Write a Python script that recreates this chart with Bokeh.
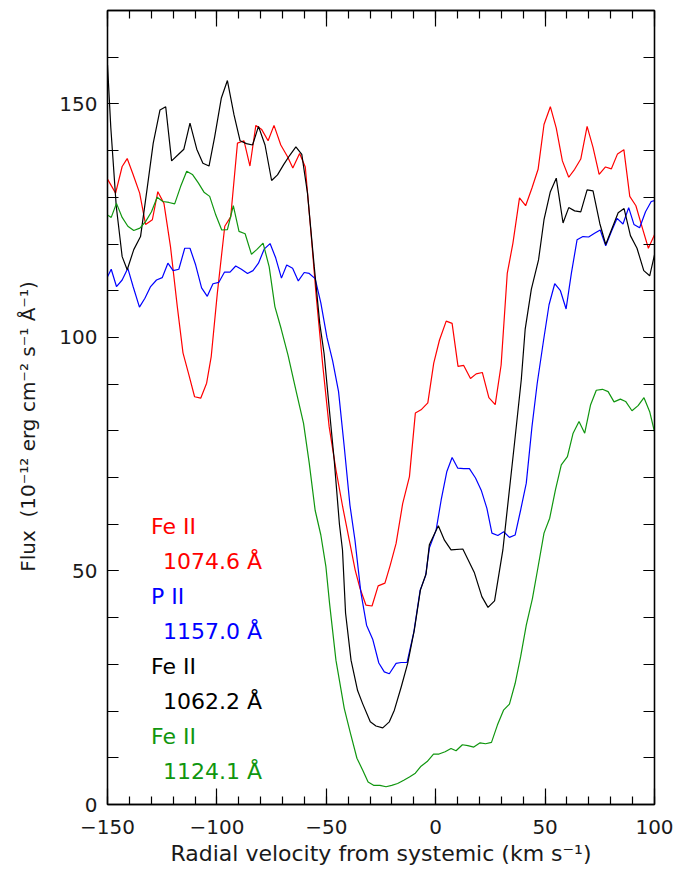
from bokeh.plotting import figure
from bokeh.models import Range1d, LinearAxis, SingleIntervalTicker, Label, CustomJSTickFormatter
from bokeh.embed import file_html
from bokeh.resources import INLINE

# ---------------- data ----------------
v_red = [-150, -146.3, -143.3, -141, -138.3, -135.3, -132.6, -129.5, -127, -124.2, -121.2, -118.1,
         -115.5, -112.8, -110.2, -107.4, -104.7, -102.6, -99.8, -96.4, -93.7, -90.6, -87.6, -84.9,
         -82.2, -79.5, -76.6, -73.9, -70.8, -67.7, -65.3, -62.2, -59.6, -57, -54.6, -51.7, -48.7,
         -45.6, -42.5, -39.5, -36.8, -34.6, -31.9, -29.1, -26.3, -23.2, -20.8, -18.1, -15.1, -12,
         -9.3, -6.7, -3.6, -0.9, 1.7, 4.8, 7.5, 10.2, 12.8, 15.9, 18.5, 21.3, 24.3, 27.2, 29.9, 32.7,
         35.3, 38.3, 41.1, 44, 46.8, 49.5, 52.4, 55.1, 57.9, 60.8, 63.5, 66.3, 69.2, 71.9, 74.7, 77.6,
         80.3, 83.1, 86, 88.7, 91.5, 94.4, 97.2, 100]
f_red = [133.9, 130.9, 136.6, 138.3, 134.9, 130.9, 124.2, 125.2, 131.2, 128.7, 119.4, 106.6,
         96.7, 92.0, 87.3, 87.0, 90.2, 95.9, 109.5, 123.8, 125.8, 141.6, 142.1, 136.7,
         145.4, 144.5, 142.1, 145.4, 141.2, 138.7, 136.3, 139.4, 136.5, 122.4, 108.8, 94.4, 80.9,
         71.7, 63.7, 56.6, 50.2, 46.3, 42.7, 42.5, 46.8, 47.4, 51.2, 55.9, 64.4, 70.2,
         83.8, 84.5, 86.0, 94.5, 99.4, 103.5, 103.0, 93.8, 94.0, 91.2, 92.2, 92.5, 87.1, 85.6, 94.1, 113.7,
         120.2, 129.9, 128.2, 132.0, 136.0, 145.6, 149.4, 144.8, 137.8, 134.3, 136.0, 138.2, 145.2, 140.7, 134.9, 136.5,
         136.1, 139.3, 140.2, 130.2, 128.2, 123.5, 119.1, 122.0]

v_blue = [-150, -148.3, -145.9, -143.3, -140.7, -138.3, -135.4, -132.9, -130.3, -127.6, -125, -122.4,
          -120, -117.4, -114.7, -112.3, -109.7, -107, -104.4, -101.8, -99.1, -96.5, -94, -91.4, -88.8,
          -86, -83.5, -81, -78.4, -75.7, -73.1, -70.5, -68.1, -65.4, -62.8, -60.1, -57.8, -55.1, -52.5,
          -49.7, -47.1, -44.4, -41.8, -39.2, -36.9, -34.2, -31.6, -28.8, -26, -23.5, -21.2, -18.1,
          -15.8, -13.1, -10, -7.1, -4.6, -2.9, 0.2, 2.5, 5.1, 7.5, 10.1, 12.8, 15.4, 18.2, 20.8, 23.4,
          25.7, 28.4, 31.1, 33.7, 36.3, 38.8, 41.4, 44, 46.4, 49.3, 51.8, 54.4, 57, 59.6, 62, 64.6,
          67.3, 69.9, 72.6, 75.2, 77.7, 80.3, 82.9, 85.6, 88.2, 90.6, 93.2, 95.9, 98.5, 100]
f_blue = [113.0, 114.6, 110.9, 112.3, 114.8, 110.9, 106.5, 108.4, 110.9, 112.3, 112.8, 115.9,
          114.3, 114.6, 119.1, 119.1, 115.5, 110.6, 108.8, 111.5, 111.8, 114.0, 114.0, 115.3, 114.6,
          113.7, 114.3, 115.9, 118.9, 120.1, 117.0, 112.7, 115.5, 114.8, 112.1, 113.9, 113.7, 112.6, 107.4,
          100.0, 95.0, 88.4, 76.6, 64.1, 56.6, 45.4, 38.4, 35.4, 30.3, 28.4, 28.0, 30.2,
          30.4, 30.4, 36.9, 45.9, 49.0, 54.9, 58.8, 65.2, 71.3, 74.3, 72.0, 71.9, 71.9, 69.9, 67.3, 63.4,
          58.1, 57.6, 58.4, 57.2, 57.7, 63.0, 68.8, 80.9, 90.2, 99.4, 107.0, 111.5, 110.0, 106.1, 113.7, 120.9,
          121.6, 121.5, 122.3, 123.0, 119.6, 122.7, 125.5, 124.3, 127.8, 124.2, 123.5, 126.9, 129.1, 129.3]

v_black = [-150, -148.5, -146, -143.3, -141, -138, -134.9, -132, -129.1, -126, -123.4, -120.7,
           -118, -115.1, -112.3, -109.2, -106.4, -103.6, -101, -98, -95.2, -92.2, -89.4, -86.5,
           -83.7, -81, -78, -75, -72.3, -69.5, -66.7, -63.9, -61.2, -58.6, -55.5, -53, -51, -48.7,
           -46.4, -44, -42.6, -41.2, -38.7, -35.7, -33.4, -29.9, -27.3, -24.2, -21.2, -18.9, -15.8,
           -12.8, -9.8, -7, -4.4, -2.9, -1.5, 1.2, 4, 7, 12.4, 17.7, 21.1, 23.9, 26.9, 30.7, 32.2, 36,
           39.1, 40.9, 43.7, 47, 49.5, 52.4, 55.1, 58.2, 60.8, 63.5, 66.3, 69.2, 71.9, 75, 77.7, 80.3,
           83.4, 86.1, 89, 92, 95.1, 97.8, 100]
f_black = [158.4, 145.0, 128.1, 117.3, 114.5, 118.8, 121.6, 131.5, 141.6, 148.7, 149.4, 137.8,
           139.0, 140.3, 145.9, 140.3, 137.3, 136.7, 143.0, 151.2, 155.0, 147.7, 142.1, 141.5,
           141.2, 145.2, 141.2, 133.6, 134.8, 137.0, 139.0, 140.8, 139.2, 130.9, 115.1, 103.0, 96.5, 85.0,
           73.8, 60.0, 54.5, 41.0, 30.9, 24.4, 21.6, 17.7, 16.8, 16.4, 17.7, 20.2, 25.1,
           30.2, 37.3, 45.9, 49.4, 55.6, 57.0, 59.7, 56.6, 54.5, 54.7, 49.6, 44.5, 42.2, 43.6, 54.5, 61.0, 77.3,
           90.9, 101.8, 110.3, 116.6, 125.2, 131.2, 134.1, 124.5, 127.8, 127.1, 126.9, 131.6, 131.4, 124.4, 119.9, 123.0,
           126.7, 127.6, 121.8, 119.1, 114.3, 113.2, 117.7]

v_green = [-150, -148.3, -145.9, -143.3, -140.7, -138, -135.2, -132.6, -129.9, -127.3, -124.7, -121.9,
           -119.3, -116.6, -113.8, -111.2, -108.5, -105.9, -103.3, -100.5, -97.8, -95.2, -92.5, -89.9,
           -87.1, -84.2, -81.8, -78.9, -76.1, -73.5, -70.6, -67.5, -63.9, -60.4, -57.8, -55.1, -52.5,
           -50.2, -48.5, -45.6, -41.8, -39.1, -36, -33.4, -30.9, -28.4, -25.5, -22.7, -20.1, -17.4,
           -14.6, -12, -9.3, -6.7, -3.9, -1, 1.5, 4.3, 7, 9.3, 12.2, 14.7, 17.4, 20.3, 22.8, 25.5, 28.2,
           31, 33.7, 36.3, 38.8, 41.4, 44.2, 46.8, 49.5, 52.1, 54.7, 57.4, 60.2, 62.8, 65.5, 68.1, 70.8,
           73.4, 76.2, 78.8, 81.5, 84.4, 86.8, 89.7, 92.5, 95.2, 97.8, 100]
f_green = [126.2, 125.7, 128.7, 125.7, 123.8, 122.9, 123.4, 124.8, 126.9, 130.0, 129.1, 128.9,
           128.6, 132.3, 135.6, 134.9, 133.1, 131.1, 130.2, 126.2, 123.0, 123.1, 128.2, 122.7,
           122.2, 117.8, 118.8, 120.2, 115.1, 106.6, 101.8, 96.2, 88.7, 81.6, 73.1, 63.0, 57.7,
           51.0, 43.0, 30.9, 20.6, 15.5, 9.9, 7.4, 4.8, 4.1, 4.1, 3.8, 4.1, 4.5,
           5.2, 5.9, 6.7, 8.2, 9.2, 10.8, 10.8, 11.3, 12.0, 11.5, 12.8, 12.6, 12.3, 13.2, 13.0, 13.3, 17.0,
           20.2, 21.5, 25.9, 31.6, 38.4, 44.1, 50.9, 58.1, 61.3, 67.3, 72.7, 74.5, 79.5, 82.0, 79.5, 85.6,
           88.7, 88.9, 88.4, 86.2, 86.8, 86.3, 84.3, 85.4, 87.1, 84.1, 79.8]

ion_names = ["Fe II", "P II", "Fe II", "Fe II"]
wavelengths = ["1074.6 Å", "1157.0 Å", "1062.2 Å", "1124.1 Å"]

x_ticks_major = 50
y_ticks_major = 50

# ---------------- styling ----------------
RED, BLUE, BLACK, GREEN = "#ff0000", "#0000ff", "#000000", "#10960f"
FONT = "DejaVu Sans"
TXT = "#1a1a1a"
FS = "20px"
NB = "\u00a0"

p = figure(width=690, height=873, x_range=Range1d(-150, 100), y_range=Range1d(0, 170),
           output_backend="svg", toolbar_location=None,
           min_border_left=107, min_border_right=36, min_border_top=10, min_border_bottom=69)
p.xgrid.visible = False
p.ygrid.visible = False
p.outline_line_color = "black"
p.outline_line_width = 1.3
p.background_fill_color = "white"
p.border_fill_color = "white"

fmt = CustomJSTickFormatter(code="return (tick < 0 ? '\u2212' : '') + Math.abs(tick).toFixed(0);")
blank = CustomJSTickFormatter(code="return '';")


def style_axis(ax, major_len, minor_len, interval, labels):
    ax.ticker = SingleIntervalTicker(interval=interval, num_minor_ticks=5)
    ax.major_tick_in = major_len
    ax.major_tick_out = 0
    ax.minor_tick_in = minor_len
    ax.minor_tick_out = 0
    ax.axis_line_color = "black"
    ax.axis_line_width = 1.3
    ax.major_tick_line_color = "black"
    ax.minor_tick_line_color = "black"
    ax.major_tick_line_width = 1.2
    ax.minor_tick_line_width = 1.2
    if labels:
        ax.formatter = fmt
        ax.major_label_text_font = FONT
        ax.major_label_text_font_size = FS
        ax.major_label_text_color = TXT
        ax.axis_label_text_font = FONT
        ax.axis_label_text_font_size = FS
        ax.axis_label_text_font_style = "normal"
        ax.axis_label_text_color = TXT
    else:
        ax.formatter = blank
        ax.major_label_standoff = 0
        ax.major_label_text_font_size = "0px"


xb = p.xaxis[0]
style_axis(xb, 16, 8, x_ticks_major, True)
xb.axis_label = "Radial velocity from systemic (km s\u207b\u00b9)"
xb.axis_label_text_font_size = "22px"
xb.major_label_standoff = 15
xb.axis_label_standoff = 4

yl = p.yaxis[0]
style_axis(yl, 11, 11, y_ticks_major, True)
yl.axis_label = ("Flux" + NB + NB + "(10\u207b\u00b9\u00b2 erg cm\u207b\u00b2 s\u207b\u00b9 \u00c5\u207b\u00b9)"
                 + NB * 6)
yl.major_label_standoff = 10
yl.axis_label_standoff = 16
yl.major_label_orientation = "horizontal"

xt = LinearAxis()
style_axis(xt, 16, 8, x_ticks_major, False)
p.add_layout(xt, "above")
yr = LinearAxis()
style_axis(yr, 11, 11, y_ticks_major, False)
p.add_layout(yr, "right")

# ---------------- lines ----------------
p.line(v_red, f_red, line_color=RED, line_width=1.2)
p.line(v_blue, f_blue, line_color=BLUE, line_width=1.2)
p.line(v_black, f_black, line_color=BLACK, line_width=1.2)
p.line(v_green, f_green, line_color=GREEN, line_width=1.2)

# ---------------- labels ----------------
colors = [RED, BLUE, BLACK, GREEN]
x0, x1 = -130.1, -124.6
ytop, step = 59.6, 7.5
for i, (ion, wl, c) in enumerate(zip(ion_names, wavelengths, colors)):
    ya = ytop - 2 * i * step
    p.add_layout(Label(x=x0, y=ya, text=ion, text_color=c, text_font=FONT,
                       text_font_size="22px", text_baseline="middle", text_align="left"))
    p.add_layout(Label(x=x1, y=ya - step, text=wl, text_color=c, text_font=FONT,
                       text_font_size="22px", text_baseline="middle", text_align="left"))

open("out.html", "w").write(file_html(p, INLINE))
